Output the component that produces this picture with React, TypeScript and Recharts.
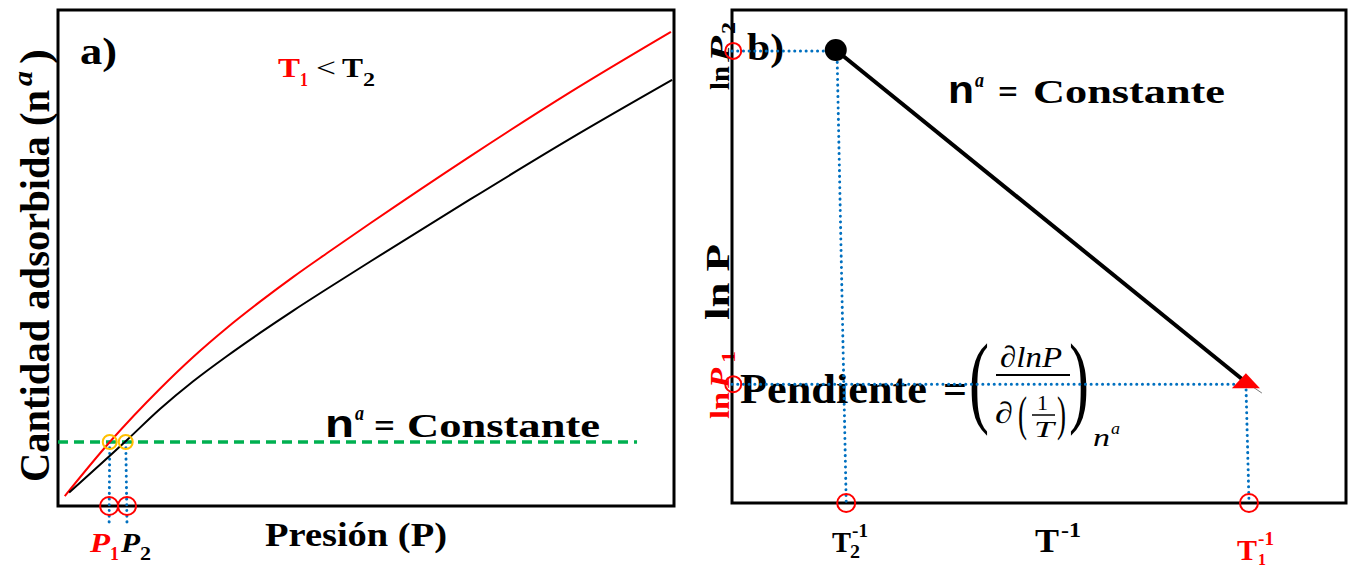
import React from 'react';
import { LineChart, Line, XAxis, YAxis, ReferenceLine, ReferenceDot, ReferenceArea, Customized } from 'recharts';

// panel a: isotherms (pressure vs adsorbed amount)
const redP = [1.1, 8.4, 16.6, 21.9, 27.4, 32.8, 38.2, 43.7, 50.7, 66.9, 83.1, 99.5];
const redN = [2.0, 12.9, 23.7, 30.0, 35.9, 41.2, 46.2, 51.0, 57.0, 70.5, 83.4, 95.6];
const blackP = [1.8, 11.2, 16.6, 21.9, 27.4, 32.8, 38.2, 43.7, 50.7, 66.9, 83.1, 99.7];
const blackN = [2.7, 13.3, 19.6, 25.1, 30.2, 34.9, 39.4, 43.8, 49.3, 61.8, 74.0, 85.9];
const nConst = 12.9;
const nConstEnd = 94;
const pCross = [8.3, 11.2];
const pCrossTop = [8.4, 11.0];

// panel b: ln P vs 1/T
const tInv = [16.9, 83.7];
const lnP = [91.9, 24.5];
const lnPMarks = [91.7, 24.1];
const tInvMarks = [18.6, 84.2];

const redData = redP.map((p, i) => ({ x: p, y: redN[i] }));
const blackData = blackP.map((p, i) => ({ x: p, y: blackN[i] }));
const bData = tInv.map((t, i) => ({ x: t, y: lnP[i] }));

const SERIF = '"Liberation Serif", "Times New Roman", serif';
const SANS = '"Liberation Sans", Arial, sans-serif';
const RED = '#ff0000';
const BLUE = '#0070c0';

type TP = {
  x: number; y: number; size: number; len?: number; fill?: string;
  weight?: string; italic?: boolean; family?: string; children: React.ReactNode;
};

function T({ x, y, size, len, fill = '#000', weight = 'bold', italic = false, family = SERIF, children }: TP) {
  return (
    <text
      x={x}
      y={y}
      fontSize={size}
      fill={fill}
      fontWeight={weight}
      fontStyle={italic ? 'italic' : 'normal'}
      fontFamily={family}
      textLength={len}
      lengthAdjust={len ? 'spacingAndGlyphs' : undefined}
    >
      {children}
    </text>
  );
}

// tall thin bracket: narrow font size stretched vertically
function Paren({ x, y, ch }: { x: number; y: number; ch: string }) {
  return (
    <g transform={`translate(${x},${y}) scale(1,1.75)`}>
      <T x={0} y={0} size={58} len={20} weight="normal">{ch}</T>
    </g>
  );
}

function LabelsA() {
  return (
    <g>
      <T x={80} y={64} size={38} len={37}>a)</T>
      <T x={278} y={77} size={28} len={22} fill={RED}>T</T>
      <T x={300} y={86} size={18} len={8} fill={RED}>1</T>
      <T x={316} y={77} size={28} len={20} weight="normal">&lt;</T>
      <T x={342} y={77} size={28} len={21}>T</T>
      <T x={363} y={86} size={18} len={12}>2</T>

      <T x={325} y={437} size={38} len={29} family={SANS}>n</T>
      <T x={355} y={420} size={21} len={9} italic>a</T>
      <T x={374} y={437} size={34} len={21}>=</T>
      <T x={407} y={437} size={34} len={193}>Constante</T>

      <T x={90} y={552} size={27} len={20} fill={RED} italic>P</T>
      <T x={110} y={560} size={18} len={9} fill={RED}>1</T>
      <T x={121} y={552} size={27} len={19} italic>P</T>
      <T x={140} y={560} size={18} len={11}>2</T>

      <T x={265} y={546} size={34} len={182}>Presión (P)</T>

      <g transform="translate(49,482) rotate(-90)">
        <T x={0} y={0} size={42} len={392}>Cantidad adsorbida (n</T>
        <T x={396} y={-17} size={28} len={15} italic>a</T>
        <T x={418} y={0} size={42} len={15}>)</T>
      </g>
    </g>
  );
}

function LabelsB() {
  return (
    <g>
      <T x={747} y={60} size={38} len={37}>b)</T>

      <T x={948} y={103} size={38} len={26} family={SANS}>n</T>
      <T x={975} y={87} size={21} len={9} italic>a</T>
      <T x={998} y={103} size={34} len={20}>=</T>
      <T x={1033} y={103} size={34} len={192}>Constante</T>

      <g transform="translate(729,90) rotate(-90)">
        <T x={0} y={0} size={28} len={24}>ln</T>
        <T x={28} y={0} size={28} len={26} italic>P</T>
        <T x={56} y={6} size={18} len={12}>2</T>
      </g>
      <g transform="translate(729,419) rotate(-90)">
        <T x={0} y={0} size={28} len={27} fill={RED}>ln</T>
        <T x={31} y={0} size={28} len={20} fill={RED} italic>P</T>
        <T x={56} y={6} size={18} len={12} fill={RED}>1</T>
      </g>
      <g transform="translate(729,320) rotate(-90)">
        <T x={0} y={0} size={34} len={76}>ln P</T>
      </g>

      <T x={740} y={403} size={42} len={187}>Pendiente</T>
      <T x={943} y={403} size={42} len={24}>=</T>

      <Paren x={969} y={414} ch="(" />
      <Paren x={1069} y={414} ch=")" />
      <T x={1000} y={367} size={30} len={62} italic weight="normal">∂lnP</T>
      <line x1={996} y1={375} x2={1070} y2={375} stroke="#000" strokeWidth={1.8} />
      <T x={995} y={423} size={30} len={18} italic weight="normal">∂</T>
      <T x={1018} y={430} size={48} len={9} weight="normal">(</T>
      <T x={1057} y={430} size={48} len={9} weight="normal">)</T>
      <T x={1037} y={410} size={22} len={11} weight="normal">1</T>
      <line x1={1032} y1={415} x2={1055} y2={415} stroke="#000" strokeWidth={1.5} />
      <T x={1034} y={437} size={24} len={20} italic weight="normal">T</T>
      <T x={1093} y={446} size={26} len={17} italic weight="normal">n</T>
      <T x={1111} y={434} size={17} len={9} italic weight="normal">a</T>

      <T x={1035} y={552} size={34} len={24}>T</T>
      <T x={1061} y={537} size={20} len={20}>-1</T>

      <T x={832} y={552} size={30} len={19}>T</T>
      <T x={850} y={558} size={18} len={10}>2</T>
      <T x={852} y={537} size={18} len={16}>-1</T>

      <T x={1237} y={560} size={30} len={20} fill={RED}>T</T>
      <T x={1258} y={565} size={17} len={8} fill={RED}>1</T>
      <T x={1258} y={545} size={18} len={16} fill={RED}>-1</T>
    </g>
  );
}

const renderBDot = (props: any) => {
  const { cx, cy, index } = props;
  if (index === 0) return <circle key="d0" cx={cx} cy={cy} r={11} fill="#000" />;
  return (
    <polygon
      key="d1"
      points={`${cx - 14},${cy + 6} ${cx},${cy - 9} ${cx + 14},${cy + 6}`}
      fill={RED}
    />
  );
};

const dotted = { stroke: BLUE, strokeWidth: 3, strokeDasharray: '0.1 5.6', strokeLinecap: 'round' as const };

export default function App() {
  return (
    <div style={{ position: 'absolute', left: 0, top: 0, width: 1351, height: 565, background: '#fff', overflow: 'hidden' }}>
      <div style={{ position: 'absolute', left: 0, top: 0 }}>
        <LineChart width={1351} height={565} margin={{ top: 10, left: 58, right: 677, bottom: 59 }}>
          <XAxis type="number" dataKey="x" domain={[0, 100]} hide allowDataOverflow />
          <YAxis type="number" dataKey="y" domain={[0, 100]} hide allowDataOverflow />
          <ReferenceArea x1={0} x2={100} y1={0} y2={100} fill="none" fillOpacity={0} stroke="#000" strokeWidth={3} ifOverflow="visible" />
          <ReferenceLine segment={[{ x: 0, y: nConst }, { x: nConstEnd, y: nConst }]} stroke="#00b050" strokeWidth={3.5} strokeDasharray="10 6" />
          {pCross.map((p, i) => (
            <ReferenceLine key={'v' + i} segment={[{ x: pCrossTop[i], y: nConst }, { x: p, y: -3.8 }]} ifOverflow="visible" {...dotted} />
          ))}
          <Line data={redData} dataKey="y" type="monotone" stroke={RED} strokeWidth={2} dot={false} isAnimationActive={false} />
          <Line data={blackData} dataKey="y" type="monotone" stroke="#000" strokeWidth={2} dot={false} isAnimationActive={false} />
          {pCrossTop.map((p, i) => (
            <ReferenceDot key={'y' + i} x={p} y={nConst} r={7} fill="none" stroke="#ffc000" strokeWidth={2} ifOverflow="visible" />
          ))}
          {pCross.map((p, i) => (
            <ReferenceDot key={'r' + i} x={p} y={0} r={9} fill="none" stroke={RED} strokeWidth={2} ifOverflow="visible" />
          ))}
          <Customized component={LabelsA} />
        </LineChart>
      </div>
      <div style={{ position: 'absolute', left: 0, top: 0 }}>
        <LineChart width={1351} height={565} margin={{ top: 10, left: 732, right: 5, bottom: 62 }}>
          <XAxis type="number" dataKey="x" domain={[0, 100]} hide allowDataOverflow />
          <YAxis type="number" dataKey="y" domain={[0, 100]} hide allowDataOverflow />
          <ReferenceArea x1={0} x2={100} y1={0} y2={100} fill="none" fillOpacity={0} stroke="#000" strokeWidth={3} ifOverflow="visible" />
          <ReferenceLine segment={[{ x: 0, y: lnPMarks[0] }, { x: tInv[0], y: lnPMarks[0] }]} {...dotted} />
          <ReferenceLine segment={[{ x: 17.1, y: lnPMarks[0] }, { x: tInvMarks[0], y: 0 }]} {...dotted} />
          <ReferenceLine segment={[{ x: 0, y: lnPMarks[1] }, { x: tInv[1], y: lnPMarks[1] }]} {...dotted} />
          <ReferenceLine segment={[{ x: tInv[1], y: lnPMarks[1] }, { x: tInvMarks[1], y: 0 }]} {...dotted} />
          <ReferenceLine segment={[{ x: tInv[1], y: lnP[1] }, { x: 86.3, y: 22.3 }]} stroke="#777" strokeWidth={1} />
          <Line data={bData} dataKey="y" type="linear" stroke="#000" strokeWidth={4} dot={renderBDot} isAnimationActive={false} />
          {lnPMarks.map((v, i) => (
            <ReferenceDot key={'l' + i} x={0.2} y={v} r={8} fill="none" stroke={RED} strokeWidth={2} ifOverflow="visible" />
          ))}
          {tInvMarks.map((v, i) => (
            <ReferenceDot key={'t' + i} x={v} y={0} r={9} fill="none" stroke={RED} strokeWidth={2} ifOverflow="visible" />
          ))}
          <Customized component={LabelsB} />
        </LineChart>
      </div>
    </div>
  );
}
